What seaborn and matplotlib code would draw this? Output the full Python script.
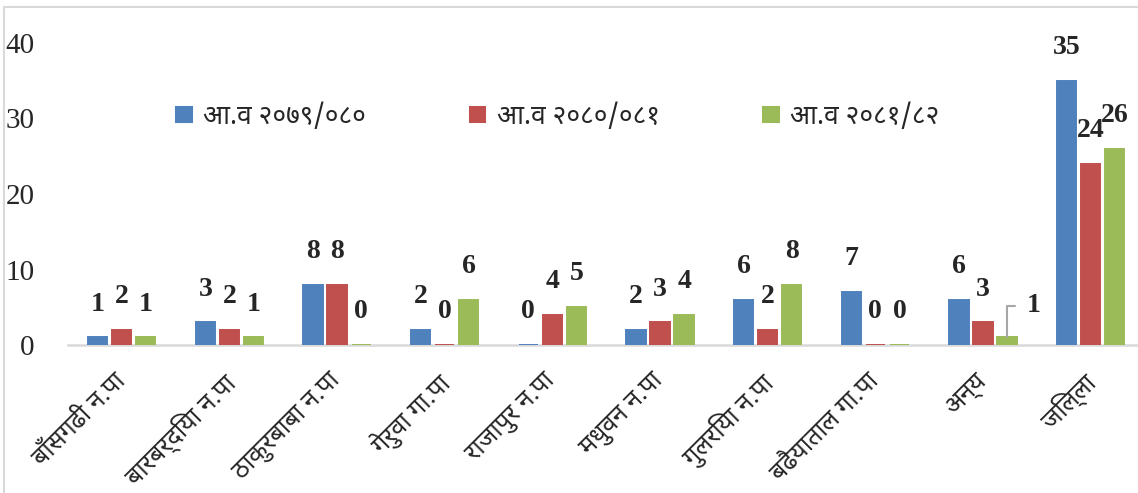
import matplotlib
matplotlib.use("Agg")
import matplotlib.pyplot as plt
from matplotlib.transforms import ScaledTranslation
import seaborn as sns
import pandas as pd

categories = ["बाँसगढी न.पा", "बारबर्दिया न.पा", "ठाकुरबाबा न.पा", "गेरुवा गा.पा",
              "राजापुर न.पा", "मधुवन न.पा", "गुलरिया न.पा", "बढैयाताल गा.पा",
              "अन्य", "जिल्ला"]
series_names = ["आ.व २०७९/०८०", "आ.व २०८०/०८१", "आ.व २०८१/८२"]
values_2079 = [1, 3, 8, 2, 0, 2, 6, 7, 6, 35]
values_2080 = [2, 2, 8, 0, 4, 3, 2, 0, 3, 24]
values_2081 = [1, 1, 0, 6, 5, 4, 8, 0, 1, 26]
yticks = [0, 10, 20, 30, 40]

sns.set_theme(style="white")
plt.rcParams['font.family'] = ['Noto Sans Devanagari', 'DejaVu Sans']

colors = ["#4F81BD", "#C0504D", "#9BBB59"]
all_vals = [values_2079, values_2080, values_2081]
df = pd.DataFrame({
    "cat": categories * 3,
    "series": [s for s in series_names for _ in categories],
    "val": values_2079 + values_2080 + values_2081,
})

W, H = 1138, 493
fig = plt.figure(figsize=(W / 100, H / 100), dpi=100)
ax = fig.add_axes([68 / W, 1 - 345 / H, (1138 - 68) / W, (345 - 43) / H])
sns.barplot(data=df, x="cat", y="val", hue="series", hue_order=series_names,
            palette=colors, width=0.67, gap=0.2, ax=ax, legend=True,
            linewidth=1.4, saturation=1, zorder=3)
for i, cont in enumerate(ax.containers):
    for bar in cont:
        bar.set_edgecolor(colors[i])

ax.set_xlim(-0.5, 9.44)
ax.set_ylim(0, 40)
ax.set_yticks(yticks)
ax.set_yticklabels([str(t) for t in yticks], family="Liberation Serif", fontsize=21)
ax.tick_params(axis="y", length=0, pad=24)
ax.tick_params(axis="x", length=0, pad=14)
ax.set_xticks(range(len(categories)))
ax.set_xticklabels(categories, rotation=45, ha="right", rotation_mode="anchor", fontsize=18)
shift = ScaledTranslation(-9 / 100, -4 / 100, fig.dpi_scale_trans)
for lab in ax.get_xticklabels():
    lab.set_transform(lab.get_transform() + shift)
ax.set_xlabel("")
ax.set_ylabel("")
for s in ["top", "right", "left"]:
    ax.spines[s].set_visible(False)
ax.spines["bottom"].set_color("#D9D9D9")
ax.spines["bottom"].set_linewidth(1.8)
ax.spines["bottom"].set_zorder(1)

for i, cont in enumerate(ax.containers):
    for j, bar in enumerate(cont):
        v = all_vals[i][j]
        x = bar.get_x() + bar.get_width() / 2
        y = bar.get_height()
        if i == 2 and j == 8:
            ax.annotate(str(v), xy=(x, y), xytext=(14, 23), textcoords="offset points",
                        ha="left", va="center", fontsize=20, fontweight="bold",
                        family="Liberation Serif", zorder=5,
                        arrowprops=dict(arrowstyle="-", color="#A6A6A6", lw=1.5,
                                        connectionstyle="angle,angleA=0,angleB=90,rad=0",
                                        shrinkA=6, shrinkB=0, relpos=(0, 0.5)))
        else:
            ax.annotate(str(v), xy=(x, y), xytext=(0, 24), textcoords="offset points",
                        ha="center", va="center", fontsize=20, fontweight="bold",
                        family="Liberation Serif", zorder=5)

leg = ax.legend(loc="center left", bbox_to_anchor=(174 / W, 1 - 117 / H),
                bbox_transform=fig.transFigure, ncol=3, frameon=False,
                fontsize=19, handlelength=0.75, handleheight=0.75, handletextpad=0.35,
                columnspacing=3.85, borderpad=0, borderaxespad=0)

fig.add_artist(plt.Rectangle((4 / W, -0.01), 1.1, 1 - 7 / H + 0.01, transform=fig.transFigure,
                             fill=False, edgecolor="#D9D9D9", linewidth=1.5))
fig.savefig("out.png", dpi=100)
